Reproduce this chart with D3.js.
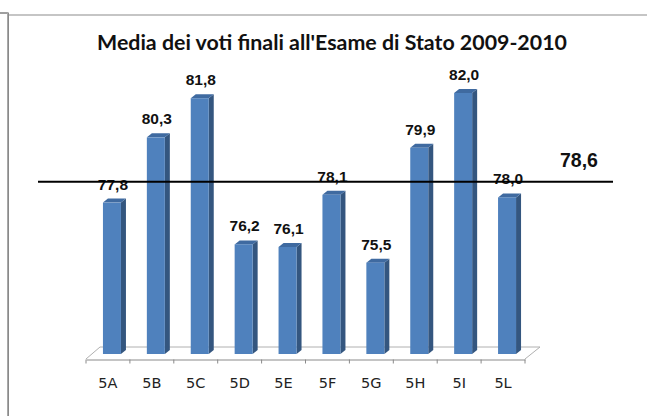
<!DOCTYPE html>
<html>
<head>
<meta charset="utf-8">
<script src="https://cdn.jsdelivr.net/npm/d3@7"></script>
<style>
  html, body { margin: 0; padding: 0; background: #ffffff; }
  svg { display: block; }
</style>
</head>
<body>
<svg id="chart" width="647" height="416"></svg>
<script>
// Classes and their average final grade
const classes = ["5A", "5B", "5C", "5D", "5E", "5F", "5G", "5H", "5I", "5L"];
const averages = [77.8, 80.3, 81.8, 76.2, 76.1, 78.1, 75.5, 79.9, 82.0, 78.0];
// Overall average drawn as a reference line
const overallAverage = 78.6;
const titleText = "Media dei voti finali all'Esame di Stato 2009-2010";

const fmt = v => d3.format(".1f")(v).replace(".", ",");

const svg = d3.select("#chart");

// Outer chart frame
svg.append("line").attr("x1", 0).attr("x2", 8).attr("y1", 13).attr("y2", 13)
  .attr("stroke", "#7f7f7f").attr("stroke-width", 1.5);
svg.append("line").attr("x1", 7.5).attr("x2", 7.5).attr("y1", 12.5).attr("y2", 416)
  .attr("stroke", "#a8a8a8").attr("stroke-width", 1);
svg.append("line").attr("x1", 8.5).attr("x2", 8.5).attr("y1", 12.5).attr("y2", 416)
  .attr("stroke", "#8a8a8a").attr("stroke-width", 1);
svg.append("line").attr("x1", 9).attr("x2", 647).attr("y1", 15).attr("y2", 15)
  .attr("stroke", "#8c8c8c").attr("stroke-width", 1.2);

// Scales
const x = d3.scaleBand().domain(classes).range([86, 525]).padding(0);
const y = d3.scaleLinear().domain([72, 82]).range([354, 93]);

// 3D geometry of each column
const barW = 18, depthX = 5, depthY = 4, shiftX = 4;

// Floor
svg.append("path")
  .attr("d", "M86,359 L100,347 L540,347 L525,359")
  .attr("fill", "none").attr("stroke", "#b0b0b0").attr("stroke-width", 1);

// Category axis with ticks between categories
const xAxis = d3.axisBottom(x).tickSize(0).tickPadding(0);
const axisG = svg.append("g").attr("transform", "translate(0,359.5)").call(xAxis);
axisG.select(".domain").attr("stroke", "#8a8a8a").attr("stroke-width", 1);
axisG.selectAll(".tick text")
  .attr("y", 28).attr("dy", 0)
  .attr("font-family", "'DejaVu Sans', sans-serif").attr("font-size", 14.5)
  .attr("fill", "#222");
const bounds = classes.map(c => x(c)).concat([x(classes[classes.length - 1]) + x.bandwidth()]);
axisG.selectAll(".sep").data(bounds).join("line")
  .attr("class", "sep")
  .attr("x1", d => d).attr("x2", d => d).attr("y1", 0).attr("y2", 4)
  .attr("stroke", "#8a8a8a").attr("stroke-width", 1);

// Columns
const bars = svg.append("g").selectAll("g").data(classes.map((c, i) => ({ c, v: averages[i] })))
  .join("g");
bars.each(function (d) {
  const g = d3.select(this);
  const x0 = x(d.c) + x.bandwidth() / 2 - barW / 2 + shiftX;
  const x1 = x0 + barW;
  const yt = y(d.v);
  const yb = y.range()[0];
  // side face
  g.append("path")
    .attr("d", `M${x1},${yt} L${x1 + depthX},${yt - depthY} L${x1 + depthX},${yb - depthY} L${x1},${yb} Z`)
    .attr("fill", "#34567f");
  // top face
  g.append("path")
    .attr("d", `M${x0},${yt} L${x0 + depthX},${yt - depthY} L${x1 + depthX},${yt - depthY} L${x1},${yt} Z`)
    .attr("fill", "#3f6aa0");
  // front face
  g.append("rect")
    .attr("x", x0).attr("y", yt).attr("width", barW).attr("height", yb - yt)
    .attr("fill", "#4f81bd");
  // value label
  g.append("text")
    .attr("x", x0 + barW / 2 + 1).attr("y", yt - 13)
    .attr("text-anchor", "middle")
    .attr("font-family", "'Liberation Sans', Arial, sans-serif").attr("font-weight", "bold")
    .attr("font-size", 15.5).attr("fill", "#111")
    .text(fmt(d.v));
});

// Overall average line and its label
const avgY = y(overallAverage);
svg.append("line")
  .attr("x1", 38).attr("x2", 613).attr("y1", avgY).attr("y2", avgY)
  .attr("stroke", "#000").attr("stroke-width", 2);
svg.append("text")
  .attr("x", 579).attr("y", avgY - 15)
  .attr("text-anchor", "middle")
  .attr("font-family", "'Liberation Sans', Arial, sans-serif").attr("font-weight", "bold")
  .attr("font-size", 19.5).attr("fill", "#111")
  .text(fmt(overallAverage));

// Title, sized to its usual width
const title = svg.append("text")
  .attr("x", 332).attr("y", 50)
  .attr("text-anchor", "middle")
  .attr("font-family", "Lato, 'Open Sans', sans-serif").attr("font-weight", "bold")
  .attr("font-size", 16).attr("fill", "#111")
  .text(titleText);
const tw = title.node().getComputedTextLength();
title.attr("font-size", 16 * 470 / tw);
</script>
</body>
</html>
